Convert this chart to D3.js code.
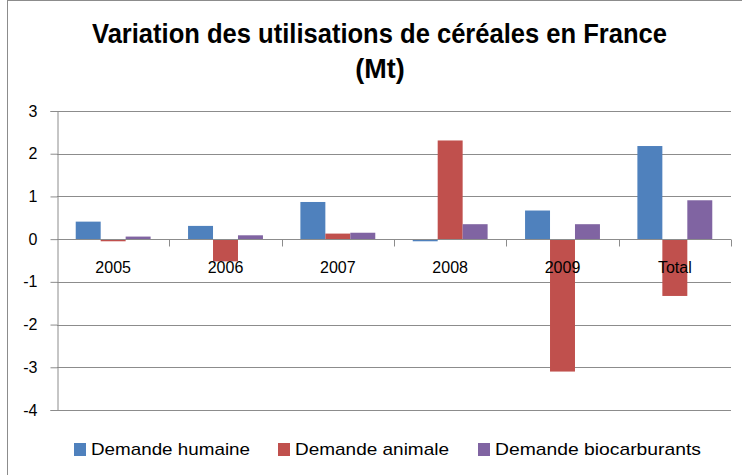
<!DOCTYPE html>
<html><head><meta charset="utf-8">
<script src="https://cdn.jsdelivr.net/npm/d3@7"></script>
<style>body{margin:0;background:#fff}svg{display:block}</style>
</head><body>
<svg id="c" width="742" height="475"></svg>
<script>
const categories = ["2005","2006","2007","2008","2009","Total"];
const seriesNames = ["Demande humaine","Demande animale","Demande biocarburants"];
const humaine = [0.41, 0.31, 0.87, -0.05, 0.67, 2.18];
const animale = [-0.05, -0.52, 0.13, 2.31, -3.10, -1.33];
const biocarburants = [0.06, 0.09, 0.15, 0.35, 0.35, 0.91];
const yTicks = [3,2,1,0,-1,-2,-3,-4];
const colors = ["#4F81BD","#C0504D","#8064A2"];
const series = [humaine, animale, biocarburants];

const svg = d3.select("#c");
const font = "'Liberation Sans', Arial, sans-serif";
svg.append("rect").attr("x",7.5).attr("y",0.5).attr("width",800).attr("height",600)
  .attr("fill","#fff").attr("stroke","#8c8c8c");

const L=57, R=731, T=111, B=410;
const x = d3.scaleBand().domain(categories).range([L,R]);
const y = d3.scaleLinear().domain([-4,3]).range([B,T]);
const bw = x.bandwidth()/4.5;

// gridlines
svg.append("g").selectAll("line").data(yTicks).join("line")
  .attr("x1",L).attr("x2",R).attr("y1",d=>Math.round(y(d))+0.5).attr("y2",d=>Math.round(y(d))+0.5)
  .attr("stroke","#8c8c8c").attr("stroke-width",1);

// y axis
const ya = svg.append("g").attr("transform",`translate(${L+0.5},0)`)
  .call(d3.axisLeft(y).tickValues(yTicks).tickSize(7).tickPadding(13).tickFormat(d=>String(d)));
ya.select(".domain").attr("stroke","#8c8c8c");
ya.selectAll(".tick line").attr("stroke","#8c8c8c");
ya.selectAll(".tick text").attr("font-family",font).attr("font-size",16).attr("fill","#000");

// bars
categories.forEach((c,i)=>{
  series.forEach((s,j)=>{
    const v=s[i];
    svg.append("rect")
      .attr("x", x(c) + bw*0.75 + j*bw)
      .attr("width", bw)
      .attr("y", y(Math.max(0,v)))
      .attr("height", Math.abs(y(v)-y(0)))
      .attr("fill", colors[j]);
  });
});

// category axis at zero
const y0 = Math.round(y(0))+0.5;
svg.append("line").attr("x1",L).attr("x2",R).attr("y1",y0).attr("y2",y0).attr("stroke","#8c8c8c");
const bounds = categories.map(c=>x(c)).concat([R]);
svg.append("g").selectAll("line").data(bounds.slice(1)).join("line")
  .attr("x1",d=>Math.round(d)+0.5).attr("x2",d=>Math.round(d)+0.5).attr("y1",y0).attr("y2",y0+7)
  .attr("stroke","#8c8c8c");
svg.append("g").selectAll("text").data(categories).join("text")
  .attr("x",d=>x(d)+x.bandwidth()/2).attr("y",273)
  .attr("text-anchor","middle").attr("font-family",font).attr("font-size",16).attr("fill","#000")
  .text(d=>d);

// title
const title = svg.append("g").attr("font-family",font).attr("font-weight","bold").attr("font-size",27).attr("fill","#000");
title.append("text").attr("x",92).attr("y",43).attr("textLength",575).attr("lengthAdjust","spacingAndGlyphs")
  .text("Variation des utilisations  de céréales en France");
title.append("text").attr("x",380).attr("y",78).attr("text-anchor","middle").text("(Mt)");

// legend
const legX = [74, 278, 478];
const legW = [159, 154, 206];
seriesNames.forEach((n,j)=>{
  svg.append("rect").attr("x",legX[j]).attr("y",443).attr("width",12).attr("height",13).attr("fill",colors[j]);
  svg.append("text").attr("x",legX[j]+17).attr("y",455).attr("font-family",font).attr("font-size",17)
    .attr("textLength",legW[j]).attr("lengthAdjust","spacingAndGlyphs").text(n);
});
</script>
</body></html>
